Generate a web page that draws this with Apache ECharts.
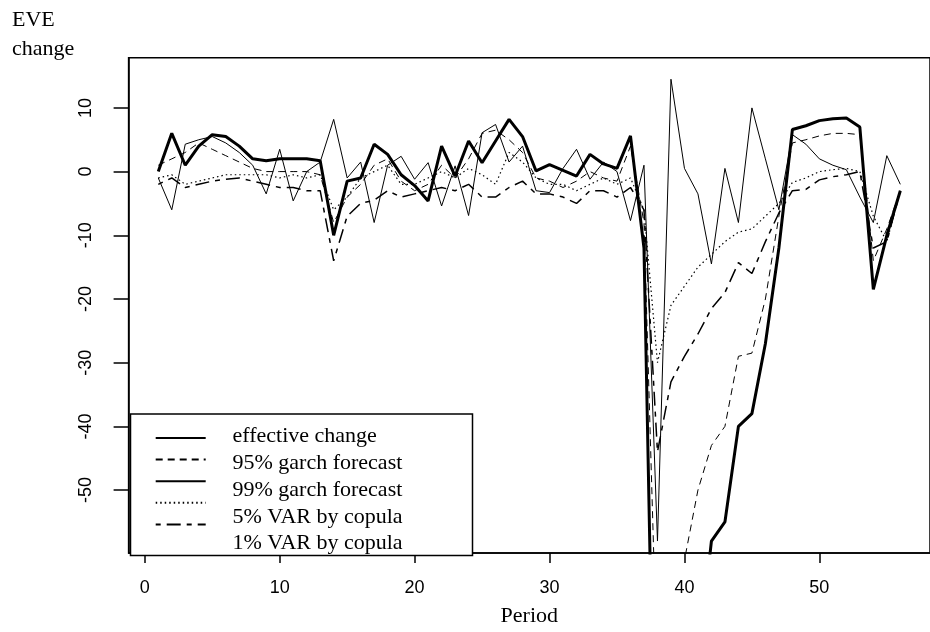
<!DOCTYPE html>
<html>
<head>
<meta charset="utf-8">
<script src="https://cdn.jsdelivr.net/npm/echarts@6/dist/echarts.min.js"></script>
<style>
html,body{margin:0;padding:0;background:#fff;}
#chart{width:930px;height:632px;}
</style>
</head>
<body>
<div id="chart"></div>
<script>
// ---- data ----
const seriesNames = ["effective change", "95% garch forecast", "99% garch forecast", "5% VAR by copula", "1% VAR by copula"];
const effectiveChange = [-1,-6,4.3,5,5.5,4.5,3,1,-3.5,3.5,-4.6,0,1.5,8.2,-1,1.5,-8,1,2.4,-1.2,1.4,-5.4,0.9,-6.9,6.1,7.4,1.5,4,-3,-3.3,0.5,3.5,-1.2,1.5,0,-7.7,1,-58,14.5,0.5,-3.5,-14.5,0.5,-8,10,2,-6,5.8,4.3,2,1,0.3,-4,-8,2.5,-2];
const garch95 = [1,2,3,4.5,3.5,2.5,1.5,0.5,0,0,0,0,-0.5,-8,-4,-2,1,2,-1.5,-3,-2,1,-1,2,6,6.5,5,3,-1,-1.5,-2.5,-1.5,0,-1,-1.5,4,-8,-80,-75,-61,-50,-43,-40,-29,-28.5,-20,-7,4.5,5,5.6,6,6,5.8,-14,-9,-3];
const garch99 = [0,6,1,4,5.8,5.5,4,2,1.7,2,2,2,1.7,-10,-1.5,-1,4.3,2.7,-0.5,-2.2,-4.6,4,-0.7,4.8,1.4,4.8,8.2,5.5,0.1,1.1,0.2,-0.7,2.7,1.2,0.5,5.6,-12,-120,-110,-95,-77,-58,-55,-40,-38,-27,-12,6.6,7.2,8,8.3,8.4,7,-18.5,-10,-3];
const var5 = [-1,-0.5,-2,-1.5,-1,-0.5,-0.5,-0.5,-0.5,-1,-0.5,-1,-0.5,-6,-4,-1,0,1,-2,-2,-1,0,-1,0.5,-0.5,-2,3,1.5,-1,-2,-2,-3,-2,-1,-2,-1,-6,-30,-21,-18,-15,-13,-11,-9.5,-9,-7,-5,-1.7,-1,0,0.3,0.5,0,-7,-11,-3];
const var1 = [-2,-1,-2.5,-2,-1.5,-1.2,-1,-1.5,-2,-2.5,-2.5,-3,-3,-14,-7,-5,-4.5,-3,-4,-3.5,-3,-2.5,-3,-2,-4,-4,-2.5,-1.5,-3.5,-3.5,-4,-5,-3,-3,-4,-2.5,-6,-44,-33,-29,-25.5,-21.5,-19,-14.3,-16,-11,-6.5,-3,-2.8,-1.3,-0.8,-0.5,0,-12,-11,-3];
const xTicks = [0,10,20,30,40,50];
const yTicks = [-50,-40,-30,-20,-10,0,10];

// ---- chart ----
const periods = effectiveChange.map((_, i) => i + 1);
const pairs = arr => arr.map((v, i) => [periods[i], v]);

const styles = [
  {width: 1, type: 'solid'},
  {width: 1, type: [7, 5]},
  {width: 3, type: 'solid'},
  {width: 1.2, type: [1.5, 3]},
  {width: 1.5, type: [5, 6, 14, 6]}
];
const allData = [effectiveChange, garch95, garch99, var5, var1];

const chart = echarts.init(document.getElementById('chart'), null, {renderer: 'canvas'});
const serif = 'Liberation Serif, Times New Roman, serif';
const sans = 'Liberation Sans, Arial, sans-serif';

chart.setOption({
  animation: false,
  backgroundColor: '#fff',
  title: {
    text: 'EVE\nchange',
    left: 12, top: 6, padding: 0,
    textStyle: {fontFamily: serif, fontSize: 22, fontWeight: 'normal', color: '#000', lineHeight: 29}
  },
  grid: {
    left: 128.6, top: 57.7, right: -12.3, bottom: 76.1,
    show: true, borderColor: '#000', borderWidth: 1.5, backgroundColor: 'transparent'
  },
  legend: [
    {
      // text column with the framed box
      orient: 'vertical',
      left: 130.5, top: 414, z: 4,
      backgroundColor: '#fff',
      borderColor: '#000', borderWidth: 1.5,
      padding: [11.7, 20, 1, 24],
      itemGap: 4.7,
      itemWidth: 50, itemHeight: 14,
      align: 'left',
      textStyle: {fontFamily: serif, fontSize: 22, color: '#000', lineHeight: 22, width: 220, padding: [0, 0, 0, 22]},
      data: seriesNames.map(n => ({
        name: n,
        itemStyle: {opacity: 0},
        lineStyle: {opacity: 0}
      }))
    },
    {
      // line samples
      orient: 'vertical',
      left: 154.7, top: 431, z: 6,
      padding: 0,
      itemGap: 9,
      itemWidth: 50, itemHeight: 14,
      align: 'left',
      formatter: () => '',
      textStyle: {fontSize: 1},
      data: seriesNames.map((n, i) => ({
        name: n,
        itemStyle: {opacity: 0},
        lineStyle: {width: 2, type: styles[i].type, color: '#000', opacity: 1}
      }))
    }
  ],
  xAxis: {
    type: 'value', min: -1.2, max: 58.2,
    name: 'Period', nameLocation: 'middle', nameGap: 52,
    nameTextStyle: {fontFamily: serif, fontSize: 22, color: '#000'},
    axisLine: {show: true, onZero: false, lineStyle: {color: '#000', width: 1.5}},
    axisTick: {show: true, length: 10, customValues: xTicks, lineStyle: {color: '#000', width: 1.5}},
    axisLabel: {customValues: xTicks, margin: 26, fontFamily: sans, fontSize: 18, color: '#000'},
    splitLine: {show: false}
  },
  yAxis: {
    type: 'value', min: -59.88, max: 17.88,
    axisLine: {show: true, onZero: false, lineStyle: {color: '#000', width: 1.5}},
    axisTick: {show: true, length: 15, customValues: yTicks, lineStyle: {color: '#000', width: 1.5}},
    axisLabel: {customValues: yTicks, rotate: 90, margin: 34, fontFamily: sans, fontSize: 18, color: '#000'},
    splitLine: {show: false}
  },
  series: allData.map((arr, i) => ({
    name: seriesNames[i],
    type: 'line',
    data: pairs(arr),
    symbol: 'none',
    clip: true,
    lineStyle: {color: '#000', width: styles[i].width, type: styles[i].type},
    itemStyle: {color: '#000'},
    z: i === 2 ? 3 : 2
  }))
});
</script>
</body>
</html>
